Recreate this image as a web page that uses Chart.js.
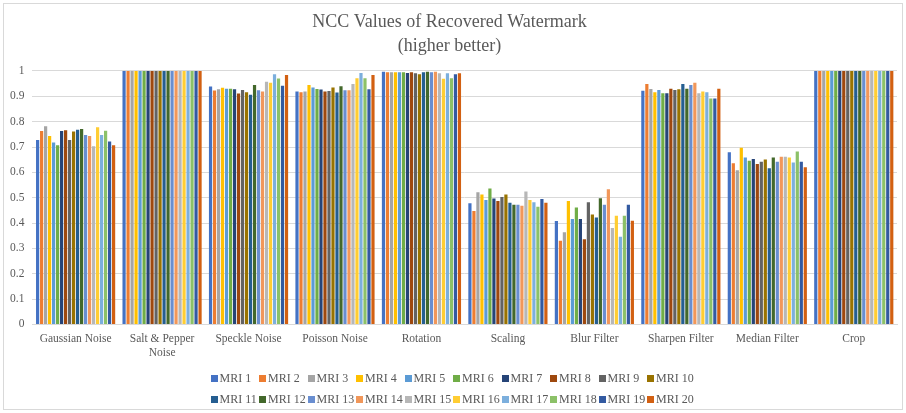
<!DOCTYPE html>
<html>
<head>
<meta charset="utf-8">
<script src="https://cdn.jsdelivr.net/npm/chart.js@4/dist/chart.umd.min.js"></script>
<style>
  html, body { margin: 0; padding: 0; background: #ffffff; }
  #wrap { position: relative; width: 906px; height: 413px; }
  #chart { position: absolute; left: 0; top: 0; }
  #legend {
    position: absolute; left: 0; top: 368px; width: 906px;
    display: grid; grid-template-columns: repeat(10, 48.5px);
    grid-auto-rows: 21px; justify-content: center;
    font-family: "Liberation Serif", "Times New Roman", serif;
    font-size: 12px; color: #595959;
  }
  #legend .item { display: flex; align-items: center; white-space: nowrap; }
  #legend .box { width: 7px; height: 7px; margin-right: 2px; flex: none; }
</style>
</head>
<body>
<div id="wrap">
  <canvas id="chart" width="906" height="413"></canvas>
  <div id="legend"></div>
</div>
<script>
const categories = ['Gaussian Noise', ['Salt & Pepper', 'Noise'], 'Speckle Noise', 'Poisson Noise', 'Rotation', 'Scaling', 'Blur Filter', 'Sharpen Filter', 'Median Filter', 'Crop'];
const seriesNames = ['MRI 1','MRI 2','MRI 3','MRI 4','MRI 5','MRI 6','MRI 7','MRI 8','MRI 9','MRI 10','MRI 11','MRI 12','MRI 13','MRI 14','MRI 15','MRI 16','MRI 17','MRI 18','MRI 19','MRI 20'];
const yTicks = [0, 0.1, 0.2, 0.3, 0.4, 0.5, 0.6, 0.7, 0.8, 0.9, 1];

const mri1  = [0.728, 1, 0.939, 0.919, 0.997, 0.478, 0.408, 0.922, 0.679, 1];
const mri2  = [0.763, 1, 0.923, 0.916, 0.995, 0.447, 0.330, 0.949, 0.636, 1];
const mri3  = [0.782, 1, 0.928, 0.919, 0.995, 0.521, 0.364, 0.929, 0.608, 1];
const mri4  = [0.743, 1, 0.934, 0.945, 0.995, 0.513, 0.487, 0.916, 0.697, 1];
const mri5  = [0.718, 1, 0.930, 0.935, 0.995, 0.491, 0.416, 0.925, 0.659, 1];
const mri6  = [0.707, 1, 0.930, 0.929, 0.995, 0.536, 0.461, 0.912, 0.646, 1];
const mri7  = [0.763, 1, 0.928, 0.927, 0.992, 0.497, 0.416, 0.912, 0.653, 1];
const mri8  = [0.766, 1, 0.911, 0.919, 0.995, 0.487, 0.336, 0.930, 0.633, 1];
const mri9  = [0.728, 1, 0.925, 0.921, 0.991, 0.503, 0.482, 0.925, 0.642, 1];
const mri10 = [0.761, 1, 0.916, 0.935, 0.987, 0.513, 0.434, 0.928, 0.651, 1];
const mri11 = [0.768, 1, 0.906, 0.915, 0.995, 0.480, 0.422, 0.949, 0.616, 1];
const mri12 = [0.771, 1, 0.945, 0.940, 0.997, 0.472, 0.498, 0.930, 0.659, 1];
const mri13 = [0.747, 1, 0.924, 0.924, 0.995, 0.472, 0.472, 0.945, 0.642, 1];
const mri14 = [0.743, 1, 0.919, 0.924, 0.997, 0.468, 0.533, 0.954, 0.662, 1];
const mri15 = [0.703, 1, 0.958, 0.949, 0.991, 0.524, 0.380, 0.912, 0.662, 1];
const mri16 = [0.778, 1, 0.954, 0.971, 0.969, 0.491, 0.429, 0.919, 0.659, 1];
const mri17 = [0.747, 1, 0.987, 0.992, 0.991, 0.482, 0.346, 0.916, 0.639, 1];
const mri18 = [0.764, 1, 0.970, 0.971, 0.971, 0.464, 0.429, 0.891, 0.682, 1];
const mri19 = [0.722, 1, 0.942, 0.928, 0.987, 0.495, 0.472, 0.891, 0.642, 1];
const mri20 = [0.707, 1, 0.984, 0.984, 0.991, 0.480, 0.409, 0.930, 0.620, 1];

const seriesValues = [mri1, mri2, mri3, mri4, mri5, mri6, mri7, mri8, mri9, mri10,
                      mri11, mri12, mri13, mri14, mri15, mri16, mri17, mri18, mri19, mri20];
const seriesColors = ['#4472C4','#ED7D31','#A5A5A5','#FFC000','#5B9BD5','#70AD47','#264478','#9E480E','#636363','#997300',
                      '#255E91','#43682B','#698ED0','#F1975A','#B7B7B7','#FFCD33','#7CAFDD','#8CC168','#335AA1','#D26012'];

const FONT = '"Liberation Serif", "Times New Roman", serif';

const frame = {
  id: 'frame',
  afterDraw(chart) {
    const c = chart.ctx;
    c.save();
    c.strokeStyle = '#d9d9d9';
    c.lineWidth = 1;
    c.strokeRect(3.5, 3.5, 899, 406);
    c.restore();
  }
};

const chart = new Chart(document.getElementById('chart'), {
  type: 'bar',
  data: {
    labels: categories,
    datasets: seriesNames.map((n, i) => ({
      label: n,
      data: seriesValues[i],
      backgroundColor: seriesColors[i],
      borderWidth: 0,
      categoryPercentage: 0.925,
      barPercentage: 0.8
    }))
  },
  options: {
    responsive: false,
    animation: false,
    layout: { padding: { left: 2, right: 9, bottom: 45, top: 0 } },
    plugins: {
      legend: { display: false },
      tooltip: { enabled: false },
      title: {
        display: true,
        text: ['NCC Values of Recovered Watermark', '(higher better)'],
        color: '#595959',
        font: { family: FONT, size: 18, weight: 'normal', lineHeight: 1.333 },
        padding: { top: 10, bottom: 13 }
      }
    },
    scales: {
      x: {
        grid: { display: false, drawTicks: false },
        border: { display: true, color: '#d9d9d9' },
        ticks: { color: '#595959', font: { family: FONT, size: 11.5 }, padding: 8, maxRotation: 0, autoSkip: false }
      },
      y: {
        min: 0, max: 1,
        afterBuildTicks(axis) { axis.ticks = yTicks.map(v => ({ value: v })); },
        grid: { color: '#d9d9d9', drawTicks: false },
        border: { display: false },
        ticks: {
          color: '#595959', font: { family: FONT, size: 11.5 }, padding: 8,
          callback: v => String(Math.round(v * 10) / 10)
        }
      }
    }
  },
  plugins: [frame]
});

// HTML legend built from the chart's own legend items
const legendEl = document.getElementById('legend');
Chart.defaults.plugins.legend.labels.generateLabels(chart).forEach(item => {
  const d = document.createElement('div');
  d.className = 'item';
  const b = document.createElement('span');
  b.className = 'box';
  b.style.background = item.fillStyle;
  const t = document.createElement('span');
  t.textContent = item.text;
  d.appendChild(b); d.appendChild(t);
  legendEl.appendChild(d);
});
</script>
</body>
</html>
